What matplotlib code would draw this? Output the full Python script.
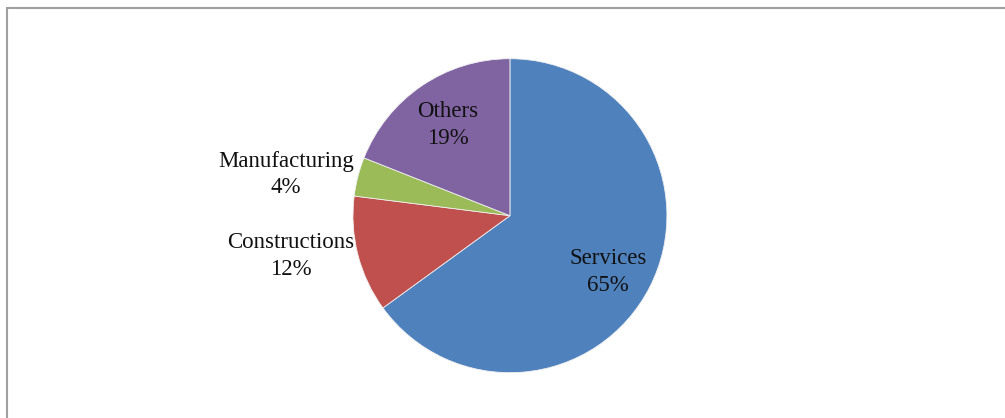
import matplotlib
matplotlib.use("Agg")
import numpy as np
import matplotlib.pyplot as plt
from matplotlib.patches import Rectangle

# sector shares of employment, drawn clockwise from 12 o'clock
sectors = ["Services", "Constructions", "Manufacturing", "Others"]
shares = [65, 12, 4, 19]
colors = ["#4F81BD", "#C0504D", "#9BBB59", "#8064A2"]

# label placement: radius (in pie radii) and angle tweak in degrees
label_radius = [0.72, 1.42, 1.45, 0.70]
label_shift = [-3, -4, 4, 0]

plt.rcParams["font.family"] = ["Liberation Serif", "DejaVu Serif"]

fig = plt.figure(figsize=(10.05, 4.18), dpi=100)
ax = fig.add_axes([0.3512, 0.1084, 0.3124, 0.7512])

wedges, _ = ax.pie(shares, colors=colors, startangle=90, counterclock=False,
                   radius=1, wedgeprops=dict(edgecolor="#f0f0f0", linewidth=0.6))
ax.set_xlim(-1, 1)
ax.set_ylim(-1, 1)
ax.set_aspect("equal")
ax.axis("off")

for w, name, val, r, shift in zip(wedges, sectors, shares, label_radius, label_shift):
    mid = np.deg2rad((w.theta1 + w.theta2) / 2 + shift)
    ax.text(r * np.cos(mid), r * np.sin(mid), "%s\n%d%%" % (name, val),
            ha="center", va="center", fontsize=16.5, linespacing=1.36,
            color="#111111", clip_on=False)

# outer chart frame
fig.patches.append(Rectangle((7 / 1005, -0.05), 1.1, 1 - 7.5 / 418 + 0.05,
                             transform=fig.transFigure, fill=False,
                             edgecolor="#A0A0A0", linewidth=1.5))

fig.savefig("out.png", dpi=100)
